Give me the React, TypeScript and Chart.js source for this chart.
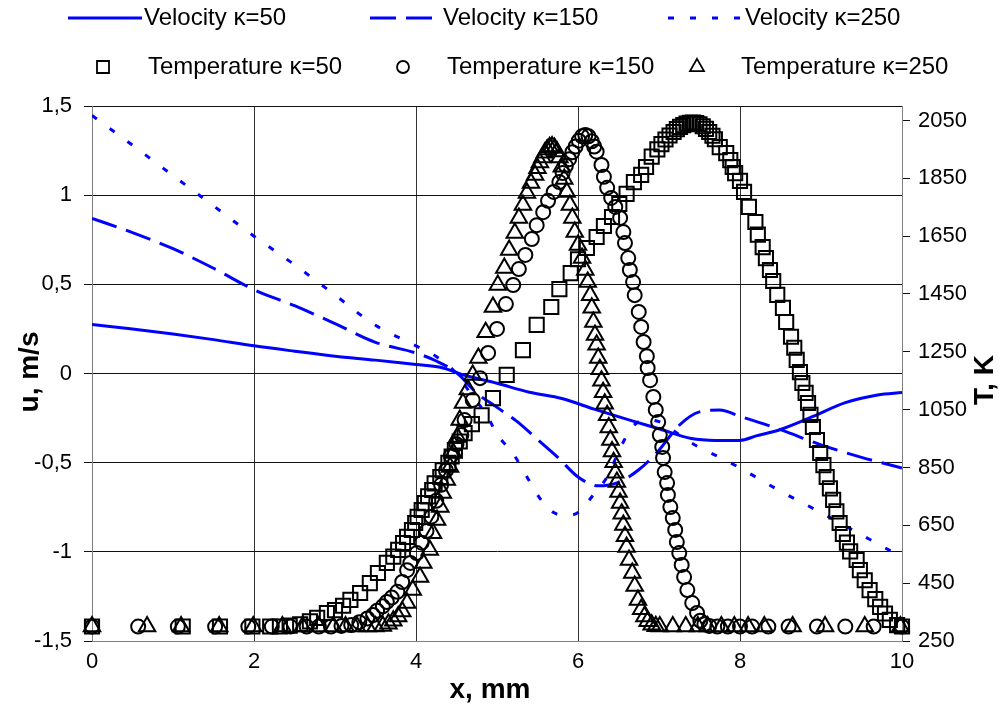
import React, { useEffect, useRef } from 'react';
import { Chart, registerables } from 'chart.js';

Chart.register(...registerables);

const FONT = '"Liberation Sans", Arial, sans-serif';

// ---- Velocity series (x in mm, u in m/s) ----
const velX50 = [0, 0.5, 1, 1.5, 2, 2.5, 3, 3.5, 4, 4.3, 4.6, 5, 5.4, 5.8, 6.2, 6.7, 7.0, 7.4, 7.7, 8.0, 8.2, 8.5, 8.9, 9.3, 9.7, 10];
const vel50 = [0.275, 0.25, 0.222, 0.19, 0.155, 0.125, 0.097, 0.075, 0.05, 0.035, -0.01, -0.055, -0.105, -0.14, -0.2, -0.27, -0.31, -0.365, -0.375, -0.375, -0.35, -0.314, -0.241, -0.163, -0.12, -0.107];

const velX150 = [0, 0.5, 1, 1.5, 2, 2.5, 3, 3.5, 4, 4.25, 4.5, 4.75, 5, 5.25, 5.5, 5.75, 6, 6.25, 6.5, 6.75, 7, 7.25, 7.5, 7.75, 8, 8.5, 9, 9.5, 10];
const vel150 = [0.87, 0.79, 0.7, 0.59, 0.47, 0.38, 0.28, 0.175, 0.115, 0.07, 0.005, -0.11, -0.19, -0.27, -0.37, -0.47, -0.58, -0.63, -0.61, -0.54, -0.43, -0.29, -0.215, -0.205, -0.24, -0.315, -0.4, -0.47, -0.53];

const velX250 = [0, 0.5, 1, 1.5, 2, 2.5, 3, 3.5, 4, 4.25, 4.5, 4.7, 4.87, 5.0, 5.2, 5.37, 5.53, 5.7, 5.85, 6.0, 6.19, 6.36, 6.52, 6.67, 6.85, 7.0, 7.15, 7.3, 7.48, 7.75, 8.0, 8.5, 9.0, 9.5, 10];
const vel250 = [1.447, 1.28, 1.11, 0.94, 0.77, 0.61, 0.44, 0.27, 0.155, 0.095, 0.0, -0.13, -0.23, -0.34, -0.45, -0.58, -0.7, -0.78, -0.795, -0.78, -0.68, -0.58, -0.42, -0.3, -0.26, -0.27, -0.31, -0.36, -0.41, -0.47, -0.53, -0.66, -0.78, -0.905, -1.03];

// ---- Temperature series (x in mm, T in K) ----
const tempX50 = [0, 1.12, 1.58, 1.98, 2.2, 2.32, 2.44, 2.57, 2.69, 2.78, 2.9, 3.0, 3.1, 3.19, 3.31, 3.43, 3.53, 3.64, 3.72, 3.78, 3.84, 3.89, 3.95, 3.99, 4.02, 4.07, 4.11, 4.15, 4.2, 4.23, 4.3, 4.33, 4.4, 4.44, 4.48, 4.54, 4.6, 4.69, 4.81, 4.95, 5.12, 5.32, 5.49, 5.67, 5.77, 5.91, 6.0, 6.11, 6.23, 6.32, 6.42, 6.51, 6.6, 6.69, 6.78, 6.84, 6.91, 6.98, 7.03, 7.08, 7.13, 7.18, 7.22, 7.26, 7.3, 7.34, 7.38, 7.42, 7.46, 7.5, 7.54, 7.58, 7.62, 7.66, 7.69, 7.75, 7.83, 7.88, 7.91, 7.94, 8.0, 8.05, 8.11, 8.19, 8.22, 8.28, 8.32, 8.37, 8.41, 8.46, 8.53, 8.57, 8.63, 8.67, 8.7, 8.74, 8.77, 8.81, 8.84, 8.87, 8.9, 8.95, 8.99, 9.03, 9.07, 9.11, 9.15, 9.19, 9.23, 9.27, 9.32, 9.36, 9.44, 9.48, 9.54, 9.6, 9.67, 9.73, 9.79, 9.85, 9.94, 10];
const temp50 = [300, 300, 300, 300, 300, 300, 303, 308, 318, 330, 347, 357, 372, 392, 416, 450, 485, 520, 542, 565, 589, 610, 634, 658, 679, 703, 727, 750, 772, 795, 817, 840, 866, 888, 910, 940, 969, 1000, 1030, 1090, 1170, 1256, 1343, 1405, 1467, 1522, 1570, 1609, 1647, 1685, 1716, 1761, 1796, 1837, 1862, 1889, 1925, 1950, 1968, 1984, 1998, 2010, 2020, 2028, 2034, 2039, 2042, 2043, 2041, 2037, 2030, 2021, 2010, 1997, 1985, 1958, 1937, 1913, 1889, 1868, 1841, 1803, 1751, 1699, 1655, 1612, 1574, 1533, 1495, 1447, 1402, 1353, 1302, 1264, 1222, 1180, 1142, 1108, 1073, 1032, 990, 945, 900, 858, 817, 778, 738, 698, 658, 620, 590, 560, 530, 495, 460, 426, 395, 368, 345, 323, 305, 300];

const tempX150 = [0, 0.57, 1.06, 1.52, 1.93, 2.22, 2.45, 2.65, 2.8, 2.95, 3.08, 3.2, 3.3, 3.4, 3.47, 3.52, 3.59, 3.64, 3.7, 3.77, 3.83, 3.89, 3.93, 4.01, 4.07, 4.13, 4.19, 4.25, 4.31, 4.37, 4.43, 4.5, 4.56, 4.6, 4.7, 4.79, 4.89, 5.0, 5.11, 5.2, 5.27, 5.35, 5.43, 5.49, 5.57, 5.63, 5.7, 5.77, 5.81, 5.85, 5.89, 5.93, 5.97, 6.01, 6.05, 6.09, 6.13, 6.17, 6.2, 6.23, 6.29, 6.32, 6.36, 6.41, 6.46, 6.52, 6.56, 6.58, 6.62, 6.64, 6.68, 6.7, 6.75, 6.78, 6.81, 6.85, 6.86, 6.89, 6.93, 6.96, 6.99, 7.01, 7.04, 7.05, 7.07, 7.1, 7.11, 7.14, 7.17, 7.2, 7.22, 7.25, 7.28, 7.31, 7.35, 7.41, 7.47, 7.51, 7.56, 7.62, 7.72, 7.85, 8.0, 8.15, 8.35, 8.6, 8.95, 9.3, 9.65, 10];
const temp150 = [300, 300, 300, 300, 300, 300, 300, 300, 300, 300, 302, 305, 315, 328, 340, 355, 370, 385, 400, 420, 454, 495, 520, 554, 590, 630, 680, 735, 790, 840, 890, 930, 962, 1014, 1083, 1159, 1246, 1329, 1415, 1481, 1536, 1585, 1640, 1688, 1733, 1772, 1803, 1837, 1868, 1893, 1916, 1940, 1960, 1980, 1995, 2000, 1995, 1978, 1960, 1942, 1896, 1855, 1817, 1782, 1751, 1713, 1664, 1626, 1574, 1533, 1491, 1446, 1388, 1336, 1284, 1235, 1194, 1152, 1094, 1049, 1007, 962, 921, 883, 834, 796, 755, 713, 675, 634, 592, 554, 513, 471, 426, 381, 347, 320, 308, 302, 300, 300, 300, 300, 300, 300, 300, 300, 300, 300];

const tempX250 = [0, 0.68, 1.1, 1.57, 1.99, 2.35, 2.6, 2.8, 2.98, 3.13, 3.27, 3.4, 3.5, 3.59, 3.66, 3.72, 3.78, 3.83, 3.89, 3.96, 4.05, 4.09, 4.17, 4.21, 4.26, 4.3, 4.33, 4.38, 4.42, 4.46, 4.51, 4.54, 4.58, 4.64, 4.7, 4.77, 4.86, 4.95, 5.01, 5.09, 5.15, 5.22, 5.27, 5.32, 5.37, 5.42, 5.47, 5.5, 5.53, 5.56, 5.59, 5.62, 5.65, 5.68, 5.71, 5.74, 5.77, 5.8, 5.83, 5.86, 5.9, 5.93, 5.96, 6.0, 6.05, 6.09, 6.12, 6.15, 6.17, 6.19, 6.21, 6.23, 6.25, 6.27, 6.29, 6.31, 6.33, 6.36, 6.38, 6.4, 6.42, 6.44, 6.46, 6.48, 6.5, 6.52, 6.54, 6.56, 6.58, 6.6, 6.63, 6.67, 6.7, 6.74, 6.78, 6.82, 6.86, 6.91, 6.96, 7.01, 7.17, 7.33, 7.48, 7.6, 7.77, 7.93, 8.1, 8.3, 8.65, 9.05, 9.54, 9.98];
const temp250 = [300, 300, 300, 300, 300, 300, 300, 300, 300, 300, 300, 300, 300, 302, 310, 320, 335, 352, 381, 426, 471, 520, 565, 623, 668, 713, 762, 807, 852, 900, 955, 1014, 1073, 1120, 1170, 1229, 1318, 1405, 1481, 1540, 1602, 1661, 1713, 1758, 1799, 1834, 1861, 1885, 1905, 1922, 1938, 1950, 1957, 1960, 1955, 1943, 1922, 1890, 1848, 1803, 1758, 1713, 1664, 1619, 1574, 1533, 1491, 1446, 1402, 1353, 1308, 1274, 1229, 1190, 1150, 1110, 1070, 1031, 988, 945, 905, 868, 832, 800, 765, 727, 690, 651, 612, 575, 530, 485, 440, 392, 360, 335, 318, 306, 301, 300, 300, 300, 300, 300, 300, 300, 300, 300, 300, 300, 300, 300];

// ---- Axes / labels ----
const xTicks = [0, 2, 4, 6, 8, 10];
const uTicks = [-1.5, -1, -0.5, 0, 0.5, 1, 1.5];
const tTicks = [250, 450, 650, 850, 1050, 1250, 1450, 1650, 1850, 2050];
const seriesLabels = ['Velocity κ=50', 'Velocity κ=150', 'Velocity κ=250', 'Temperature κ=50', 'Temperature κ=150', 'Temperature κ=250'];
const xTitle = 'x, mm';
const uTitle = 'u, m/s';
const tTitle = 'T, K';

const BLUE = '#0000ff';
const DASHES = [[], [26, 10], [6, 16]];
const MARKERS = ['rect', 'circle', 'triangle'];

const pts = (xs: number[], ys: number[]) => {
  const n = Math.min(xs.length, ys.length);
  const out: { x: number; y: number }[] = [];
  for (let i = 0; i < n; i++) out.push({ x: xs[i], y: ys[i] });
  return out;
};

function drawMarker(ctx: CanvasRenderingContext2D, style: string, x: number, y: number, s: number) {
  ctx.beginPath();
  if (style === 'rect') {
    ctx.rect(x - s / 2, y - s / 2, s, s);
  } else if (style === 'circle') {
    ctx.arc(x, y, s / 2, 0, Math.PI * 2);
  } else {
    const r = s / Math.sqrt(3);
    ctx.moveTo(x, y - r);
    ctx.lineTo(x + s / 2, y + r / 2);
    ctx.lineTo(x - s / 2, y + r / 2);
    ctx.closePath();
  }
  ctx.stroke();
}

const overlayPlugin = {
  id: 'overlay',
  afterDraw(chart: any) {
    const ctx: CanvasRenderingContext2D = chart.ctx;
    const labels = chart.data.datasets.map((d: any) => d.label);
    ctx.save();
    ctx.fillStyle = '#000';
    ctx.textBaseline = 'middle';
    ctx.textAlign = 'left';
    ctx.font = `24px ${FONT}`;

    // Legend row 1: velocity lines
    const row1 = 18;
    const lineSamples = [
      { x0: 68, x1: 142, tx: 144 },
      { x0: 370, x1: 436, tx: 443 },
      { x0: 668, x1: 742, tx: 745 },
    ];
    lineSamples.forEach((s, i) => {
      ctx.save();
      ctx.strokeStyle = BLUE;
      ctx.lineWidth = 3;
      ctx.setLineDash(DASHES[i]);
      ctx.beginPath();
      ctx.moveTo(s.x0, row1);
      ctx.lineTo(s.x1, row1);
      ctx.stroke();
      ctx.restore();
      ctx.fillText(labels[i], s.tx, row1);
    });

    // Legend row 2: temperature markers
    const row2 = 67;
    const markerSamples = [
      { mx: 103, tx: 148, size: 12 },
      { mx: 403, tx: 447, size: 12 },
      { mx: 697, tx: 741, size: 14 },
    ];
    markerSamples.forEach((s, i) => {
      ctx.save();
      ctx.strokeStyle = '#000';
      ctx.lineWidth = 1.8;
      drawMarker(ctx, MARKERS[i], s.mx, row2, s.size);
      ctx.restore();
      ctx.fillText(labels[i + 3], s.tx, row2);
    });

    // Axis titles
    ctx.font = `bold 28px ${FONT}`;
    ctx.textAlign = 'center';
    ctx.fillText(xTitle, 490, 690);
    ctx.save();
    ctx.translate(30, 372);
    ctx.rotate(-Math.PI / 2);
    ctx.fillText(uTitle, 0, 0);
    ctx.restore();
    ctx.save();
    ctx.translate(985, 380);
    ctx.rotate(-Math.PI / 2);
    ctx.fillText(tTitle, 0, 0);
    ctx.restore();
    ctx.restore();
  },
};

export default function App() {
  const canvasRef = useRef<HTMLCanvasElement | null>(null);

  useEffect(() => {
    if (!canvasRef.current) return;
    Chart.defaults.font.family = FONT;
    const velSets = [
      [velX50, vel50],
      [velX150, vel150],
      [velX250, vel250],
    ].map(([xs, ys], i) => ({
      type: 'line' as const,
      label: seriesLabels[i],
      data: pts(xs, ys),
      borderColor: BLUE,
      backgroundColor: BLUE,
      borderWidth: 3,
      borderDash: DASHES[i],
      borderCapStyle: 'butt' as const,
      pointRadius: 0,
      fill: false,
      cubicInterpolationMode: 'monotone' as const,
      yAxisID: 'y',
      order: 2,
    }));
    const radii = [10, 7, 9.5];
    const tempSets = [
      [tempX50, temp50],
      [tempX150, temp150],
      [tempX250, temp250],
    ].map(([xs, ys], i) => ({
      type: 'line' as const,
      label: seriesLabels[i + 3],
      data: pts(xs, ys),
      showLine: false,
      pointStyle: MARKERS[i],
      pointRadius: radii[i],
      pointBorderColor: '#000',
      pointBackgroundColor: 'rgba(0,0,0,0)',
      pointBorderWidth: 2,
      borderColor: '#000',
      backgroundColor: 'rgba(0,0,0,0)',
      yAxisID: 'y2',
      clip: false,
      order: 1,
    }));

    const chart = new Chart(canvasRef.current, {
      type: 'line',
      data: { datasets: [...velSets, ...tempSets] as any },
      options: {
        responsive: false,
        animation: false,
        devicePixelRatio: 1,
        events: [],
        layout: { padding: { top: 106, left: 0, right: 0, bottom: 0 } },
        plugins: {
          legend: { display: false },
          tooltip: { enabled: false },
          title: { display: false },
        },
        scales: {
          x: {
            type: 'linear',
            position: 'bottom',
            min: 0,
            max: 10,
            afterBuildTicks: (s: any) => {
              s.ticks = xTicks.map((v) => ({ value: v }));
            },
            afterFit: (s: any) => {
              s.height = 70;
            },
            ticks: { color: '#000', font: { size: 22 }, padding: 8, maxRotation: 0, callback: (v: any) => String(v) },
            grid: { color: '#333', lineWidth: 1, drawTicks: false },
            border: { color: '#808080', width: 1 },
          },
          y: {
            type: 'linear',
            position: 'left',
            min: -1.5,
            max: 1.5,
            afterBuildTicks: (s: any) => {
              s.ticks = uTicks.map((v) => ({ value: v }));
            },
            afterFit: (s: any) => {
              s.width = 92;
            },
            ticks: { color: '#000', font: { size: 22 }, padding: 12, callback: (v: any) => String(v).replace('.', ',') },
            grid: { color: '#111', lineWidth: 1, tickLength: 8 },
            border: { color: '#808080', width: 1 },
          },
          y2: {
            type: 'linear',
            position: 'right',
            min: 250,
            max: 2100,
            afterBuildTicks: (s: any) => {
              s.ticks = tTicks.map((v) => ({ value: v }));
            },
            afterFit: (s: any) => {
              s.width = 104;
            },
            ticks: { color: '#000', font: { size: 22 }, padding: 8, callback: (v: any) => String(v) },
            grid: { drawOnChartArea: false, color: '#111', lineWidth: 1, tickLength: 8 },
            border: { color: '#808080', width: 1 },
          },
        },
      } as any,
      plugins: [overlayPlugin],
    });
    return () => chart.destroy();
  }, []);

  return (
    <div style={{ position: 'absolute', left: 0, top: 0, width: 1006, height: 711, background: '#fff' }}>
      <canvas ref={canvasRef} width={1006} height={711} style={{ display: 'block', width: 1006, height: 711 }} />
    </div>
  );
}
